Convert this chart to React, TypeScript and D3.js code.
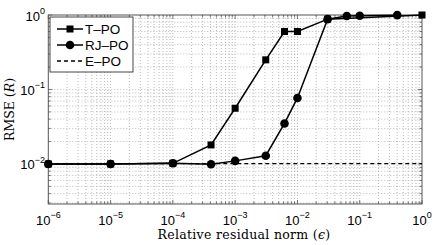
import React, { useEffect, useRef } from "react";
import * as d3 from "d3";

// data
const epsT = [1e-6, 1e-5, 1e-4, 4.1e-4, 1e-3, 3.1e-3, 6.2e-3, 1e-2, 3.05e-2, 1];
const rmseT = [0.01, 0.01, 0.0102, 0.018, 0.056, 0.25, 0.6, 0.6, 0.88, 1.0];

const epsRJ = [1e-6, 1e-5, 1e-4, 4.1e-4, 1e-3, 3.1e-3, 6.2e-3, 1e-2, 3.05e-2, 6.2e-2, 1e-1, 4e-1];
const rmseRJ = [0.01, 0.01, 0.0102, 0.0099, 0.011, 0.0129, 0.035, 0.077, 0.88, 0.97, 0.975, 0.995];

const epsE = [1e-6, 1];
const rmseE = [0.0101, 0.0101];

const xDomain = [1e-6, 1];
const yDomain = [0.0029, 1];
const xTickExps = [-6, -5, -4, -3, -2, -1, 0];
const yTickExps = [-2, -1, 0];
const legendLabels = ["T\u2013PO", "RJ\u2013PO", "E\u2013PO"];

const App = () => {
  const svgRef = useRef<SVGSVGElement>(null);

  useEffect(() => {
    const svg = d3.select(svgRef.current);
    svg.selectAll("*").remove();

    const width = 436;
    const height = 245;
    const left = 48.3, right = 422, top = 15, bottom = 204;

    const x = d3.scaleLog().domain(xDomain).range([left, right]);
    const y = d3.scaleLog().domain(yDomain).range([bottom, top]);

    svg.append("rect").attr("width", width).attr("height", height).attr("fill", "#fff");
    svg.append("rect").attr("x", left).attr("y", top)
      .attr("width", right - left).attr("height", bottom - top).attr("fill", "#fff");

    // minor / major values
    const xMinor: number[] = [];
    for (let e = -6; e < 0; e++) for (let m = 2; m <= 9; m++) xMinor.push(m * Math.pow(10, e));
    const yMinor: number[] = [];
    for (let e = -3; e < 0; e++) for (let m = 2; m <= 9; m++) {
      const v = m * Math.pow(10, e);
      if (v >= yDomain[0]) yMinor.push(v);
    }
    const xMajor = xTickExps.map((e) => Math.pow(10, e));
    const yMajor = yTickExps.map((e) => Math.pow(10, e));

    // grid
    const grid = svg.append("g").attr("fill", "none").attr("stroke-width", 0.8)
      .attr("stroke-dasharray", "1,2");
    xMinor.concat(xMajor.slice(1, -1)).forEach((v) => {
      grid.append("line").attr("x1", x(v)).attr("x2", x(v)).attr("y1", top).attr("y2", bottom)
        .attr("stroke", "#aaa");
    });
    yMinor.concat(yMajor.slice(0, -1)).forEach((v) => {
      grid.append("line").attr("y1", y(v)).attr("y2", y(v)).attr("x1", left).attr("x2", right)
        .attr("stroke", "#aaa");
    });

    // ticks on all four sides, pointing inward
    const ticks = svg.append("g").attr("stroke", "#555").attr("stroke-width", 0.8);
    const tick = (v: number, len: number, isX: boolean) => {
      if (isX) {
        ticks.append("line").attr("x1", x(v)).attr("x2", x(v)).attr("y1", bottom).attr("y2", bottom - len);
        ticks.append("line").attr("x1", x(v)).attr("x2", x(v)).attr("y1", top).attr("y2", top + len);
      } else {
        ticks.append("line").attr("y1", y(v)).attr("y2", y(v)).attr("x1", left).attr("x2", left + len);
        ticks.append("line").attr("y1", y(v)).attr("y2", y(v)).attr("x1", right).attr("x2", right - len);
      }
    };
    xMinor.forEach((v) => tick(v, 2.5, true));
    xMajor.forEach((v) => tick(v, 4, true));
    yMinor.forEach((v) => tick(v, 2.5, false));
    yMajor.forEach((v) => tick(v, 4, false));

    // frame
    svg.append("rect").attr("x", left).attr("y", top)
      .attr("width", right - left).attr("height", bottom - top)
      .attr("fill", "none").attr("stroke", "#555").attr("stroke-width", 1);

    // tick labels
    const font = "'Liberation Sans', Arial, sans-serif";
    xTickExps.forEach((e) => {
      const t = svg.append("text").attr("x", x(Math.pow(10, e))).attr("y", 224.5)
        .attr("text-anchor", "middle").attr("font-family", font).attr("font-size", 13)
        .attr("fill", "#000");
      t.append("tspan").text("10");
      t.append("tspan").attr("dy", -6.5).attr("font-size", 9).text(e === 0 ? "0" : "\u2212" + -e);
    });
    yTickExps.forEach((e) => {
      const t = svg.append("text").attr("x", 45).attr("y", y(Math.pow(10, e)) + 5.5)
        .attr("text-anchor", "end").attr("font-family", font).attr("font-size", 13)
        .attr("fill", "#000");
      t.append("tspan").text("10");
      t.append("tspan").attr("dy", -6.5).attr("font-size", 9).text(e === 0 ? "0" : "\u2212" + -e);
    });

    // axis labels
    const serif = "'DejaVu Serif', serif";
    const xl = svg.append("text").attr("x", 244).attr("y", 238.5).attr("text-anchor", "middle")
      .attr("font-family", serif).attr("font-size", 12.5).attr("letter-spacing", 0.3).attr("fill", "#000");
    xl.append("tspan").text("Relative residual norm (");
    xl.append("tspan").attr("font-style", "italic").text("\u03f5");
    xl.append("tspan").text(")");

    const yl = svg.append("text").attr("transform", `translate(14, ${(top + bottom) / 2}) rotate(-90)`)
      .attr("text-anchor", "middle").attr("font-family", serif).attr("font-size", 12.5).attr("fill", "#000");
    yl.append("tspan").text("RMSE (");
    yl.append("tspan").attr("font-style", "italic").text("R");
    yl.append("tspan").text(")");

    const line = d3.line<[number, number]>().x((d) => x(d[0])).y((d) => y(d[1]));
    const zip = (a: number[], b: number[]) => a.map((v, i) => [v, b[i]] as [number, number]);

    const plot = svg.append("g");
    const dE = zip(epsE, rmseE);
    const dT = zip(epsT, rmseT);
    const dRJ = zip(epsRJ, rmseRJ);

    plot.append("path").datum(dT).attr("fill", "none").attr("stroke", "#000")
      .attr("stroke-width", 1.5).attr("d", line);
    plot.selectAll(".sq").data(dT).enter().append("rect")
      .attr("x", (d) => x(d[0]) - 3.5).attr("y", (d) => y(d[1]) - 3.5)
      .attr("width", 7).attr("height", 7).attr("fill", "#000");

    plot.append("path").datum(dRJ).attr("fill", "none").attr("stroke", "#000")
      .attr("stroke-width", 1.5).attr("d", line);
    plot.selectAll(".ci").data(dRJ).enter().append("circle")
      .attr("cx", (d) => x(d[0])).attr("cy", (d) => y(d[1])).attr("r", 4.3).attr("fill", "#000");

    plot.append("path").datum(dE).attr("fill", "none").attr("stroke", "#000")
      .attr("stroke-width", 1.3).attr("stroke-dasharray", "4,3").attr("d", line);

    // legend
    const lg = svg.append("g");
    lg.append("rect").attr("x", 50).attr("y", 17).attr("width", 83).attr("height", 55)
      .attr("fill", "#fff").attr("stroke", "#333").attr("stroke-width", 0.9);
    const rows = [29, 45, 61];
    rows.forEach((ry, i) => {
      const l = lg.append("line").attr("x1", 57).attr("x2", 83).attr("y1", ry).attr("y2", ry)
        .attr("stroke", "#000").attr("stroke-width", i === 2 ? 1.3 : 1.5);
      if (i === 2) l.attr("stroke-dasharray", "4,3");
      if (i === 0) lg.append("rect").attr("x", 66.5).attr("y", ry - 3.5).attr("width", 7).attr("height", 7).attr("fill", "#000");
      if (i === 1) lg.append("circle").attr("cx", 70).attr("cy", ry).attr("r", 4.3).attr("fill", "#000");
      lg.append("text").attr("x", 85).attr("y", ry + 4.5).attr("font-family", font)
        .attr("font-size", 13.5).attr("fill", "#000").text(legendLabels[i]);
    });
  }, []);

  return (
    <svg ref={svgRef} width={436} height={245}
      style={{ position: "absolute", left: 0, top: 0 }} />
  );
};

export default App;
